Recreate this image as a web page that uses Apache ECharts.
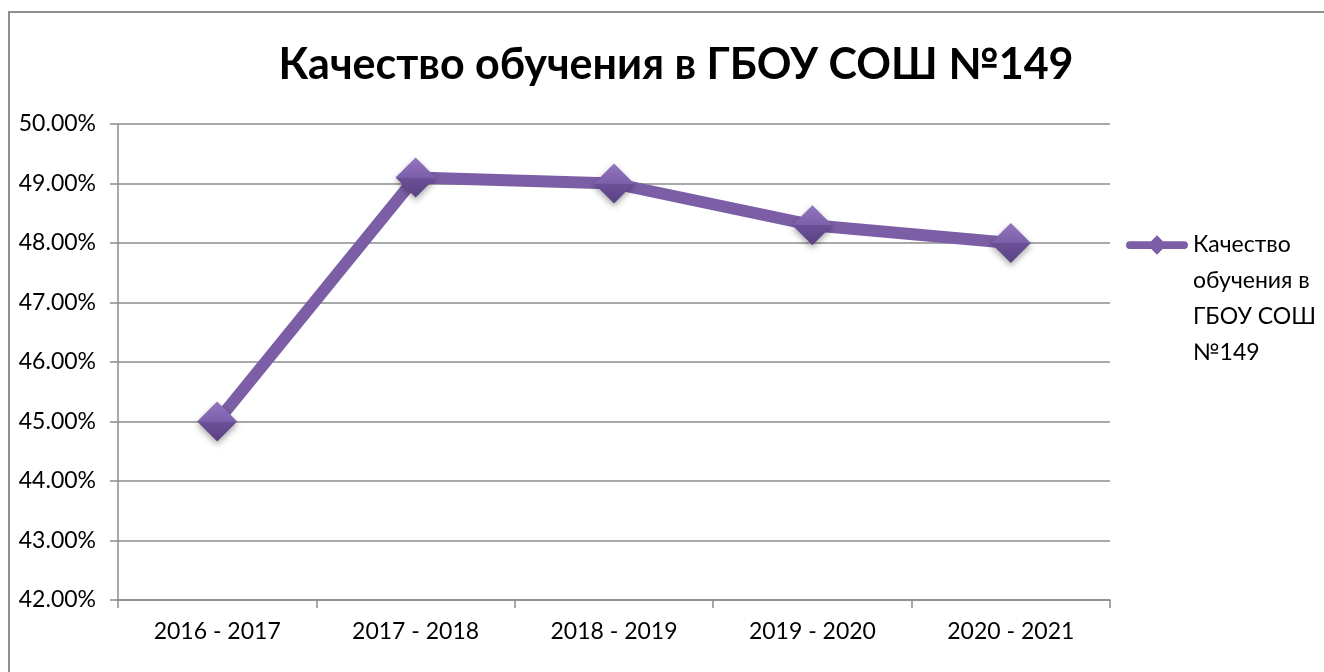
<!DOCTYPE html>
<html>
<head>
<meta charset="utf-8">
<script src="https://cdn.jsdelivr.net/npm/echarts@6/dist/echarts.min.js"></script>
<style>
  html, body { margin: 0; padding: 0; background: #fff; overflow: hidden; }
  #frame { position: absolute; left: 8px; top: 11px; width: 1340px; height: 700px; border: 2px solid #8f8f8f; box-sizing: border-box; }
  #chart { position: absolute; left: 0; top: 0; width: 1324px; height: 672px; }
</style>
</head>
<body>
<div id="frame"></div>
<div id="chart"></div>
<script>
// данные графика
const titleText = 'Качество обучения в ГБОУ СОШ №149'
const seriesName = 'Качество обучения в ГБОУ СОШ №149'
const legendLines = ['Качество', 'обучения в', 'ГБОУ СОШ', '№149']
const years = ['2016 - 2017', '2017 - 2018', '2018 - 2019', '2019 - 2020', '2020 - 2021']
const quality = [45.0, 49.1, 49.0, 48.3, 48.0]

const chart = echarts.init(document.getElementById('chart'))
const fontFamily = 'Lato, "Noto Sans", sans-serif'

const markerFill = new echarts.graphic.LinearGradient(0, 0, 0, 1, [
  { offset: 0, color: '#9276c2' },
  { offset: 0.5, color: '#7c5fa9' },
  { offset: 0.5, color: '#6b5098' },
  { offset: 1, color: '#5a4182' },
])

chart.setOption({
  animation: false,
  title: {
    text: titleText,
    left: 671,
    textAlign: 'center',
    top: 39,
    textStyle: { fontFamily, fontSize: 43, fontWeight: 'bold', color: '#000' },
  },
  legend: {
    data: [seriesName],
    left: 1121,
    top: 114,
    orient: 'vertical',
    itemWidth: 62,
    itemHeight: 20,
    itemGap: 0,
    icon: 'path://M3,6 L59,6 A4,4 0 0 1 59,14 L3,14 A4,4 0 0 1 3,6 Z M31,0 L41,10 L31,20 L21,10 Z',
    itemStyle: { color: '#7b5ea5' },
    // пустые строки сверху, чтобы значок стоял напротив первой строки
    formatter: () => '\n\n\n' + legendLines.join('\n'),
    textStyle: { fontFamily, fontSize: 23, color: '#000', lineHeight: 36 },
  },
  grid: { left: 118, right: 214, top: 124, bottom: 72, containLabel: false },
  xAxis: {
    type: 'category',
    data: years,
    boundaryGap: true,
    axisLine: { lineStyle: { color: '#8c8c8c', width: 1.5 } },
    axisTick: { show: true, length: 8, inside: false, lineStyle: { color: '#8c8c8c', width: 1.5 } },
    axisLabel: { fontFamily, fontSize: 23, color: '#000', margin: 20 },
  },
  yAxis: {
    type: 'value',
    min: 42,
    max: 50,
    interval: 1,
    axisLine: { show: true, lineStyle: { color: '#8c8c8c', width: 1.5 } },
    axisTick: { show: true, length: 8, lineStyle: { color: '#8c8c8c', width: 1.5 } },
    axisLabel: {
      fontFamily, fontSize: 23, color: '#000', margin: 22,
      formatter: v => v.toFixed(2) + '%',
    },
    splitLine: { lineStyle: { color: '#8c8c8c', width: 1.5 } },
  },
  series: [{
    name: seriesName,
    type: 'line',
    data: quality,
    symbol: 'diamond',
    symbolSize: [40, 40],
    lineStyle: { color: '#7b5ea5', width: 12 },
    itemStyle: {
      color: markerFill,
      shadowColor: 'rgba(0,0,0,0.35)',
      shadowBlur: 6,
      shadowOffsetY: 3,
    },
  }],
})
</script>
</body>
</html>
